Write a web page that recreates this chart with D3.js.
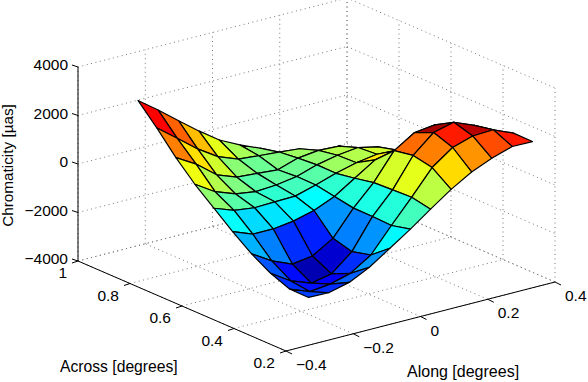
<!DOCTYPE html>
<html>
<head>
  <meta charset="utf-8">
  <script src="https://d3js.org/d3.v7.min.js"></script>
  <style>
    html, body { margin: 0; background: #fff; }
    text { font-family: "Liberation Sans", Arial, sans-serif; fill: #000; }
  </style>
</head>
<body>
  <script>
    var outerWidth = 588,
      outerHeight = 382;

    // grid of the surface
    var along = [-0.333, -0.273, -0.212, -0.152, -0.091, -0.030, 0.030, 0.091, 0.152, 0.212, 0.273, 0.333];
    var across = [0.2, 0.273, 0.346, 0.419, 0.492, 0.564, 0.637, 0.71, 0.783, 0.856];

    // chromaticity in uas, one row per across value, one column per along value
    var chromaticity = [
      [-2030, -2050, -1840, -1430, -860, -290, 320, 920, 1420, 1770, 2040, 2030],
      [-2020, -2340, -2250, -2020, -1480, -480, 470, 1480, 2090, 2350, 2390, 2040],
      [-1710, -2240, -2550, -2380, -1680, -450, 440, 1640, 2370, 2580, 2230, 1830],
      [-1250, -1750, -2100, -1980, -1470, -440, 400, 1500, 2030, 2130, 1710, 1080],
      [-670, -990, -990, -880, -660, -300, 240, 780, 940, 930, 670, 460],
      [-40, -340, -450, -420, -400, -160, 110, 330, 460, 420, 130, -90],
      [610, 90, -220, -340, -280, -150, 120, 300, 400, 210, -290, -500],
      [1370, 890, 230, -80, -140, -210, 60, 160, 120, -250, -670, -930],
      [2250, 1620, 960, 430, 110, 30, -30, -110, -620, -920, -1130, -1350],
      [3050, 2440, 1780, 1150, 560, 140, -210, -740, -960, -1340, -1550, -1770]
    ];

    // colour index of each facet (0 to 1 on the jet map)
    var faceLevel = [
      [0.19, 0.17, 0.22, 0.27, 0.37, 0.44, 0.56, 0.66, 0.73, 0.80, 0.85],
      [0.17, 0.14, 0.12, 0.17, 0.27, 0.41, 0.60, 0.75, 0.85, 0.945, 0.90],
      [0.21, 0.135, 0.05, 0.08, 0.25, 0.40, 0.585, 0.77, 0.965, 0.93, 0.90],
      [0.30, 0.25, 0.17, 0.155, 0.27, 0.41, 0.56, 0.645, 0.65, 0.60, 0.60],
      [0.38, 0.34, 0.35, 0.365, 0.375, 0.42, 0.56, 0.645, 0.58, 0.58, 0.58],
      [0.515, 0.46, 0.44, 0.42, 0.44, 0.46, 0.53, 0.55, 0.58, 0.58, 0.58],
      [0.61, 0.55, 0.50, 0.46, 0.47, 0.48, 0.515, 0.55, 0.56, 0.57, 0.58],
      [0.75, 0.655, 0.58, 0.51, 0.48, 0.50, 0.53, 0.55, 0.56, 0.56, 0.58],
      [0.875, 0.78, 0.69, 0.60, 0.54, 0.51, 0.53, 0.53, 0.54, 0.54, 0.57]
    ];

    var alongTicks = [-0.4, -0.2, 0, 0.2, 0.4];
    var acrossTicks = [1, 0.8, 0.6, 0.4, 0.2];
    var zTicks = [-4000, -2000, 0, 2000, 4000];

    var xLabel = 'Along [degrees]';
    var yLabel = 'Across [degrees]';
    var zLabel = 'Chromaticity [\u00b5as]';

    // front corner of the box, the oblique view is made of three pairs of scales
    var originX = 286,
      originY = 351;

    var alongX = d3.scaleLinear().domain([-0.4, 0.4]).range([0, 269]),
      alongY = d3.scaleLinear().domain([-0.4, 0.4]).range([0, -69]),
      acrossX = d3.scaleLinear().domain([0.2, 1]).range([0, -208]),
      acrossY = d3.scaleLinear().domain([0.2, 1]).range([0, -90]),
      zY = d3.scaleLinear().domain([-4000, 4000]).range([0, -194]);

    function project(a, c, z) {
      return [originX + alongX(a) + acrossX(c), originY + alongY(a) + acrossY(c) + zY(z)];
    }

    var jet = d3.scaleLinear()
      .domain([0, 0.125, 0.375, 0.625, 0.875, 1])
      .range(['#000080', '#0000ff', '#00ffff', '#ffff00', '#ff0000', '#800000']);

    var tickFormat = function(d) {
      return String(d).replace('-', '\u2212');
    };

    var svg = d3.select('body')
      .append('svg')
      .attr('width', outerWidth)
      .attr('height', outerHeight)
      .style('display', 'block');

    // dotted grid on floor and the two back walls
    var gridLines = [];
    alongTicks.forEach(function(a) {
      gridLines.push([project(a, 0.2, -4000), project(a, 1, -4000)]);
      gridLines.push([project(a, 1, -4000), project(a, 1, 4000)]);
    });
    acrossTicks.forEach(function(c) {
      gridLines.push([project(-0.4, c, -4000), project(0.4, c, -4000)]);
      gridLines.push([project(0.4, c, -4000), project(0.4, c, 4000)]);
    });
    zTicks.forEach(function(z) {
      gridLines.push([project(-0.4, 1, z), project(0.4, 1, z)]);
      gridLines.push([project(0.4, 1, z), project(0.4, 0.2, z)]);
    });

    svg.append('g').selectAll('line')
      .data(gridLines)
      .enter().append('line')
      .attr('x1', function(d) { return d[0][0]; })
      .attr('y1', function(d) { return d[0][1]; })
      .attr('x2', function(d) { return d[1][0]; })
      .attr('y2', function(d) { return d[1][1]; })
      .attr('stroke', '#777')
      .attr('stroke-width', 1)
      .attr('stroke-dasharray', '1 3.5');

    // facets from far to near so the fold at the back gets hidden properly
    var cells = [];
    for (var j = across.length - 2; j >= 0; j--) {
      for (var i = along.length - 2; i >= 0; i--) {
        cells.push({
          level: faceLevel[j][i],
          points: [
            project(along[i], across[j], chromaticity[j][i]),
            project(along[i + 1], across[j], chromaticity[j][i + 1]),
            project(along[i + 1], across[j + 1], chromaticity[j + 1][i + 1]),
            project(along[i], across[j + 1], chromaticity[j + 1][i])
          ]
        });
      }
    }

    svg.append('g').selectAll('path')
      .data(cells)
      .enter().append('path')
      .attr('d', function(d) { return d3.line()(d.points) + 'Z'; })
      .attr('fill', function(d) { return jet(d.level); })
      .attr('stroke', '#000')
      .attr('stroke-width', 1.2)
      .attr('stroke-linejoin', 'round');

    // axis lines
    var axisLines = [
      [project(-0.4, 1, -4000), project(-0.4, 1, 4000)],
      [project(-0.4, 1, -4000), project(-0.4, 0.2, -4000)],
      [project(-0.4, 0.2, -4000), project(0.4, 0.2, -4000)]
    ];

    // short tick marks
    zTicks.forEach(function(z) {
      var p = project(-0.4, 1, z);
      axisLines.push([p, [p[0] - 6, p[1] - 2]]);
    });
    acrossTicks.forEach(function(c) {
      var p = project(-0.4, c, -4000);
      axisLines.push([p, [p[0] - 6, p[1] + 2]]);
    });
    alongTicks.forEach(function(a) {
      var p = project(a, 0.2, -4000);
      axisLines.push([p, [p[0] + 6, p[1] + 3]]);
    });

    svg.append('g').selectAll('line')
      .data(axisLines)
      .enter().append('line')
      .attr('x1', function(d) { return d[0][0]; })
      .attr('y1', function(d) { return d[0][1]; })
      .attr('x2', function(d) { return d[1][0]; })
      .attr('y2', function(d) { return d[1][1]; })
      .attr('stroke', '#000')
      .attr('stroke-width', 1);

    // tick labels
    svg.append('g').selectAll('text')
      .data(zTicks)
      .enter().append('text')
      .attr('x', project(-0.4, 1, 0)[0] - 10)
      .attr('y', function(d) { return project(-0.4, 1, d)[1] + 3; })
      .attr('text-anchor', 'end')
      .attr('font-size', 15.5)
      .text(tickFormat);

    svg.append('g').selectAll('text')
      .data(acrossTicks)
      .enter().append('text')
      .attr('x', function(d) { return project(-0.4, d, -4000)[0] - 11; })
      .attr('y', function(d) { return project(-0.4, d, -4000)[1] + 17; })
      .attr('text-anchor', 'end')
      .attr('font-size', 15.5)
      .text(tickFormat);

    svg.append('g').selectAll('text')
      .data(alongTicks)
      .enter().append('text')
      .attr('x', function(d) { return project(d, 0.2, -4000)[0] + 10; })
      .attr('y', function(d) { return project(d, 0.2, -4000)[1] + 19; })
      .attr('font-size', 15.5)
      .text(tickFormat);

    // axis titles
    svg.append('text')
      .attr('x', 60)
      .attr('y', 372)
      .attr('font-size', 15.7)
      .text(yLabel);

    svg.append('text')
      .attr('x', 407)
      .attr('y', 377)
      .attr('font-size', 16)
      .text(xLabel);

    svg.append('text')
      .attr('transform', 'translate(12.5 165.5) rotate(-90)')
      .attr('text-anchor', 'middle')
      .attr('font-size', 15.3)
      .text(zLabel);
  </script>
</body>
</html>
